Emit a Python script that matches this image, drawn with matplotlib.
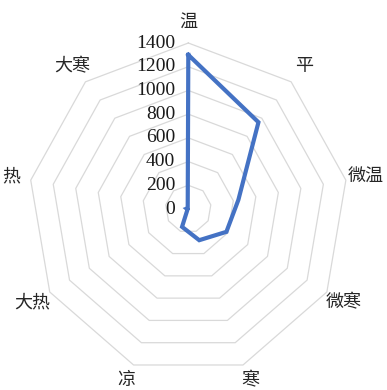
import numpy as np
import matplotlib
matplotlib.use("Agg")
import matplotlib.pyplot as plt

# 数据
categories = ['温', '平', '微温', '微寒', '寒', '凉', '大热', '热', '大寒']
values = [1300, 955, 445, 385, 280, 160, 8, 15, 8]
rings = [200, 400, 600, 800, 1000, 1200, 1400]
tick_labels = ['0', '200', '400', '600', '800', '1000', '1200', '1400']

n = len(categories)
theta = np.arange(n) * 2 * np.pi / n
theta_c = np.append(theta, theta[0])

fig = plt.figure(figsize=(3.87, 3.90), dpi=100)
ax = fig.add_axes([28.3 / 387, 15 / 390, 320 / 387, 332 / 390], projection='polar')
ax.set_aspect('auto')
ax.set_theta_zero_location('N')
ax.set_theta_direction(-1)
ax.set_ylim(0, 1400)
ax.grid(False)
ax.spines['polar'].set_visible(False)
ax.set_xticks([])
ax.set_yticks([])
ax.patch.set_visible(False)

# 网格(九边形)
for r in rings:
    ax.plot(theta_c, [r] * (n + 1), color='#d9d9d9', lw=0.9, zorder=1, clip_on=False)

# 数据线
v = values + [values[0]]
ax.plot(theta_c, v, color='#4472C4', lw=3.0, zorder=3, solid_joinstyle='miter', clip_on=False)

# 径向刻度标签
for i, lab in enumerate(tick_labels):
    ax.annotate(lab, xy=(0, i * 200), xytext=(-9.5, 0), textcoords='offset points',
                ha='right', va='center', fontsize=14, family='Liberation Serif',
                color='#1a1a1a', annotation_clip=False)

# 类别标签
for t, c in zip(theta, categories):
    rr = 1575
    dy = 0
    if c in ('寒', '凉'):
        dy = 3
    ax.annotate(c, xy=(t, rr), xytext=(0, dy), textcoords='offset points',
                ha='center', va='center', fontsize=13,
                family=['Noto Sans CJK SC', 'DejaVu Sans'], color='#262626',
                annotation_clip=False)

fig.savefig('out.png', dpi=100)
